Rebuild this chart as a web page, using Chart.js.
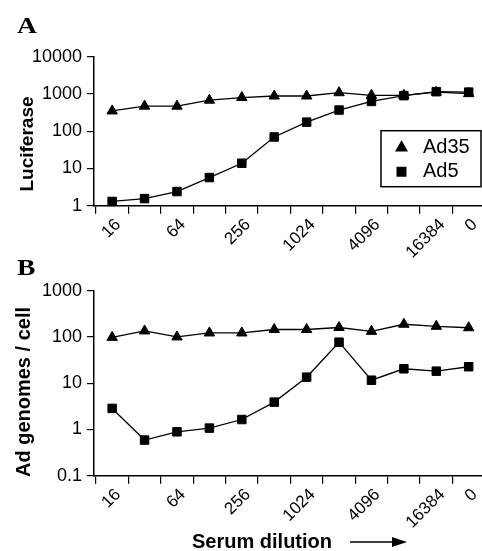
<!DOCTYPE html>
<html>
<head>
<meta charset="utf-8">
<script src="https://cdn.jsdelivr.net/npm/chart.js@4/dist/chart.umd.min.js"></script>
<style>
  body { margin: 0; background: #fff; }
  #wrap { position: relative; width: 482px; height: 551px; overflow: hidden; font-family: "Liberation Sans", Arial, sans-serif; color: #000; }
  canvas { position: absolute; left: 0; }
  .panel { position: absolute; font-family: "Liberation Serif", "Times New Roman", serif; font-weight: bold; font-size: 24px; line-height: 24px; transform: scaleX(1.15); transform-origin: left top; }
  .ytitle { position: absolute; font-weight: bold; white-space: nowrap; line-height: 1; transform: translate(-50%, -50%) rotate(-90deg); }
  .xtitle { position: absolute; font-weight: bold; font-size: 20px; line-height: 20px; white-space: nowrap; }
</style>
</head>
<body>
<div id="wrap">
  <canvas id="chartA" width="482" height="265" style="top:0"></canvas>
  <canvas id="chartB" width="482" height="286" style="top:265px"></canvas>
  <div class="panel" style="left:17px;top:13px">A</div>
  <div class="panel" style="left:17px;top:255px">B</div>
  <div class="ytitle" style="left:26px;top:144px;font-size:19px">Luciferase</div>
  <div class="ytitle" style="left:23px;top:392px;font-size:20px">Ad genomes / cell</div>
  <div class="xtitle" style="left:192px;top:531px">Serum dilution</div>
  <svg style="position:absolute;left:348px;top:535px" width="62" height="14">
    <line x1="2" y1="7" x2="48" y2="7" stroke="#000" stroke-width="1.6"/>
    <polygon points="44,2 59,7 44,12" fill="#000"/>
  </svg>
</div>
<script>
// x categories (serum dilution), only some of them get a label
const dilutions = ['16', '32', '64', '128', '256', '512', '1024', '2048', '4096', '8192', '16384', '0'];
const shownDilutions = ['16', '64', '256', '1024', '4096', '16384', '0'];

// panel A - luciferase
const ad35Luciferase = [350, 470, 470, 680, 800, 880, 880, 1080, 920, 920, 1120, 1020];
const ad5Luciferase = [1.3, 1.55, 2.4, 5.7, 13.8, 70, 175, 370, 630, 900, 1150, 1120];
const luciferaseTicks = [1, 10, 100, 1000, 10000];

// panel B - genomes per cell
const ad35Genomes = [98, 135, 100, 122, 122, 145, 145, 160, 132, 188, 170, 158];
const ad5Genomes = [2.85, 0.59, 0.89, 1.07, 1.64, 3.9, 13.5, 77, 11.6, 20.5, 18.2, 22.7];
const genomeTicks = [0.1, 1, 10, 100, 1000];

Chart.defaults.font.family = '"Liberation Sans", Arial, sans-serif';
Chart.defaults.color = '#000';

function points(values){
    return values.map(function(v, i){ return {x: i + 1, y: v}; });
}

// legend drawn as a framed box inside the plot
const boxLegend = {
    id: 'boxLegend',
    afterDraw(chart, args, opts){
        if(!opts.show){ return; }
        let ctx = chart.ctx;
        let area = chart.chartArea;
        let x = area.right - opts.right - opts.width;
        let y = area.top + opts.top;
        ctx.save();
        ctx.lineWidth = 1.5;
        ctx.strokeStyle = '#000';
        ctx.fillStyle = '#000';
        ctx.strokeRect(x, y, opts.width, opts.height);
        ctx.font = '20px "Liberation Sans", Arial, sans-serif';
        ctx.textBaseline = 'middle';
        chart.data.datasets.forEach(function(ds, i){
            let cy = y + 17 + i * 24;
            Chart.helpers.drawPoint(ctx, {pointStyle: ds.pointStyle, radius: 6, borderWidth: 1}, x + 20.5, cy);
            ctx.fillText(ds.label, x + 42, cy);
        });
        ctx.restore();
    }
};

function series(label, style, values){
    return {
        label: label,
        data: points(values),
        pointStyle: style,
        pointRadius: 6,
        borderColor: '#000',
        backgroundColor: '#000',
        pointBackgroundColor: '#000',
        pointBorderColor: '#000',
        pointBorderWidth: 1,
        borderWidth: 1.3,
        tension: 0,
        clip: false
    };
}

function makePanel(id, ad35, ad5, yMin, yMax, yTicks, topPad, xHeight, showLegend){
    new Chart(document.getElementById(id), {
        type: 'line',
        data: {
            datasets: [series('Ad35', 'triangle', ad35), series('Ad5', 'rect', ad5)]
        },
        options: {
            responsive: false,
            animation: false,
            layout: {autoPadding: false, padding: {top: topPad, left: 0, right: 0, bottom: 0}},
            plugins: {
                legend: {display: false},
                tooltip: {enabled: false},
                boxLegend: {show: showLegend, right: 1, top: 74, width: 100, height: 56}
            },
            scales: {
                x: {
                    type: 'linear',
                    min: 0.44,
                    max: 12.41,
                    afterBuildTicks: function(s){ s.ticks = dilutions.map(function(d, i){ return {value: i + 1}; }); },
                    afterFit: function(s){
                        s.height = xHeight;
                        // the plot runs right to the page edge like the original
                        s.paddingLeft = 0;
                        s.paddingRight = 0;
                    },
                    border: {color: '#000', width: 1.5},
                    grid: {offset: true, drawOnChartArea: false, color: '#000', lineWidth: 1.2, tickLength: 8},
                    ticks: {
                        autoSkip: false,
                        minRotation: 45,
                        maxRotation: 45,
                        padding: 1,
                        labelOffset: 6,
                        font: {size: 17},
                        callback: function(v, i){
                            return shownDilutions.includes(dilutions[i]) ? dilutions[i] : '';
                        }
                    }
                },
                y: {
                    type: 'logarithmic',
                    min: yMin,
                    max: yMax,
                    afterBuildTicks: function(s){ s.ticks = yTicks.map(function(v){ return {value: v}; }); },
                    afterFit: function(s){ s.width = 94; },
                    border: {color: '#000', width: 1.5},
                    grid: {drawOnChartArea: false, color: '#000', lineWidth: 1.2, tickLength: 7},
                    ticks: {padding: 5, font: {size: 18}, callback: function(v){ return String(v); }}
                }
            }
        },
        plugins: [boxLegend]
    });
}

makePanel('chartA', ad35Luciferase, ad5Luciferase, 1, 10000, luciferaseTicks, 56.7, 59.3, true);
makePanel('chartB', ad35Genomes, ad5Genomes, 0.1, 1000, genomeTicks, 25.7, 75.3, false);
</script>
</body>
</html>
